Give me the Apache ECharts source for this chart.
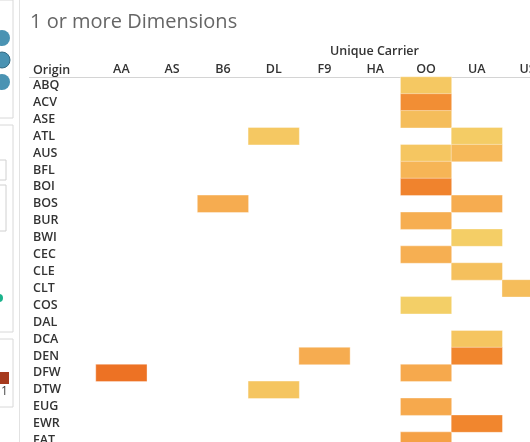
<!DOCTYPE html>
<html><head><meta charset="utf-8">
<script src="https://cdn.jsdelivr.net/npm/echarts@6/dist/echarts.min.js"></script>
<style>html,body{margin:0;padding:0;background:#fff}#c{width:530px;height:442px}</style>
</head><body><div id="c"></div>
<script>
const title = '1 or more Dimensions';
const colTitle = 'Unique Carrier';
const rowTitle = 'Origin';
const carriers = ['AA','AS','B6','DL','F9','HA','OO','UA','US'];
const origins = ['ABQ','ACV','ASE','ATL','AUS','BFL','BOI','BOS','BUR','BWI','CEC','CLE','CLT','COS','DAL','DCA','DEN','DFW','DTW','EUG','EWR','FAT'];
// values per carrier, aligned with origins (null = no mark)
const valAA = [null,null,null,null,null,null,null,null,null,null,null,null,null,null,null,null,null,92,null,null,null,null];
const valAS = [null,null,null,null,null,null,null,null,null,null,null,null,null,null,null,null,null,null,null,null,null,null];
const valB6 = [null,null,null,null,null,null,null,50,null,null,null,null,null,null,null,null,null,null,null,null,null,null];
const valDL = [null,null,null,25,null,null,null,null,null,null,null,null,null,null,null,null,null,null,28,null,null,null];
const valF9 = [null,null,null,null,null,null,null,null,null,null,null,null,null,null,null,null,50,null,null,null,null,null];
const valHA = [null,null,null,null,null,null,null,null,null,null,null,null,null,null,null,null,null,null,null,null,null,null];
const valOO = [25,72,35,null,27,42,80,null,48,null,47,null,null,12,null,null,null,52,null,52,null,58];
const valUA = [null,null,null,18,38,null,null,50,null,15,null,32,null,null,null,28,78,null,null,null,78,null];
const valUS = [null,null,null,null,null,null,null,null,null,null,null,null,35,null,null,null,null,null,null,null,null,null];
const allVals = [valAA,valAS,valB6,valDL,valF9,valHA,valOO,valUA,valUS];

const data = [];
allVals.forEach((arr, ci) => arr.forEach((v, ri) => { if (v != null) data.push([ci, ri, v]); }));

const chart = echarts.init(document.getElementById('c'));
const font = '"Open Sans", "Noto Sans", sans-serif';
chart.setOption({
  animation: false,
  title: { text: title, left: 25, top: 7, textStyle: { fontFamily: font, fontSize: 20, fontWeight: 'normal', color: '#666' } },
  grid: { left: 96, top: 77, width: 457, height: 372, outerBoundsMode: 'none', containLabel: false },
  xAxis: {
    type: 'category', data: carriers, position: 'top',
    name: colTitle, nameLocation: 'middle', nameGap: 19,
    nameTextStyle: { fontFamily: font, fontSize: 12.5, fontWeight: 600, color: '#333', padding: [0, 0, 0, 100] },
    axisLine: { show: false }, axisTick: { show: false }, splitLine: { show: false },
    axisLabel: { fontFamily: font, fontSize: 12.5, fontWeight: 600, color: '#333', margin: 1 }
  },
  yAxis: {
    type: 'category', data: origins, inverse: true,
    axisLine: { show: false }, axisTick: { show: false }, splitLine: { show: false },
    axisLabel: { fontFamily: font, fontSize: 12.5, fontWeight: 600, color: '#333', align: 'left', margin: 63 }
  },
  visualMap: {
    show: false, min: 0, max: 100, dimension: 2,
    inRange: { color: ['#f2d66c', '#f5c862', '#f6ac50', '#f28a30', '#ea661f'] }
  },
  series: [{
    type: 'heatmap', data: data,
    itemStyle: { borderColor: 'rgba(255,255,255,0.6)', borderWidth: 0.6 },
    emphasis: { disabled: true }
  }],
  graphic: [
    { type: 'text', left: 33, top: 64, style: { text: rowTitle, font: '600 12.5px "Open Sans", sans-serif', fill: '#333' } },
    { type: 'line', shape: { x1: 29, y1: 77.5, x2: 530, y2: 77.5 }, style: { stroke: '#d4d4d4', lineWidth: 1 } },
    { type: 'line', shape: { x1: 19.5, y1: 0, x2: 19.5, y2: 442 }, style: { stroke: '#e2e2e2', lineWidth: 1 } },
    { type: 'rect', shape: { x: -2, y: 0, width: 15, height: 118 }, style: { fill: '#fff', stroke: '#d8d8d8' } },
    { type: 'circle', shape: { cx: 2, cy: 38, r: 8 }, style: { fill: '#4a93b3' } },
    { type: 'circle', shape: { cx: 2, cy: 60, r: 8 }, style: { fill: '#4a93b3', stroke: '#336b84' } },
    { type: 'circle', shape: { cx: 2, cy: 82, r: 8 }, style: { fill: '#4a93b3' } },
    { type: 'rect', shape: { x: -2, y: 125, width: 15, height: 207 }, style: { fill: '#fff', stroke: '#d8d8d8' } },
    { type: 'rect', shape: { x: -2, y: 160, width: 8, height: 20 }, style: { fill: '#fff', stroke: '#d0d0d0' } },
    { type: 'rect', shape: { x: -2, y: 185, width: 8, height: 46 }, style: { fill: '#fff', stroke: '#d0d0d0' } },
    { type: 'circle', shape: { cx: -1, cy: 298, r: 4 }, style: { fill: '#1bb38c' } },
    { type: 'rect', shape: { x: -2, y: 339, width: 15, height: 68 }, style: { fill: '#fff', stroke: '#d8d8d8' } },
    { type: 'rect', shape: { x: 0, y: 372, width: 9, height: 12 }, style: { fill: '#a63a1e' } },
    { type: 'text', left: 1, top: 386, style: { text: '1', font: '12px "Open Sans", sans-serif', fill: '#444' } }
  ]
});
</script>
</body></html>
